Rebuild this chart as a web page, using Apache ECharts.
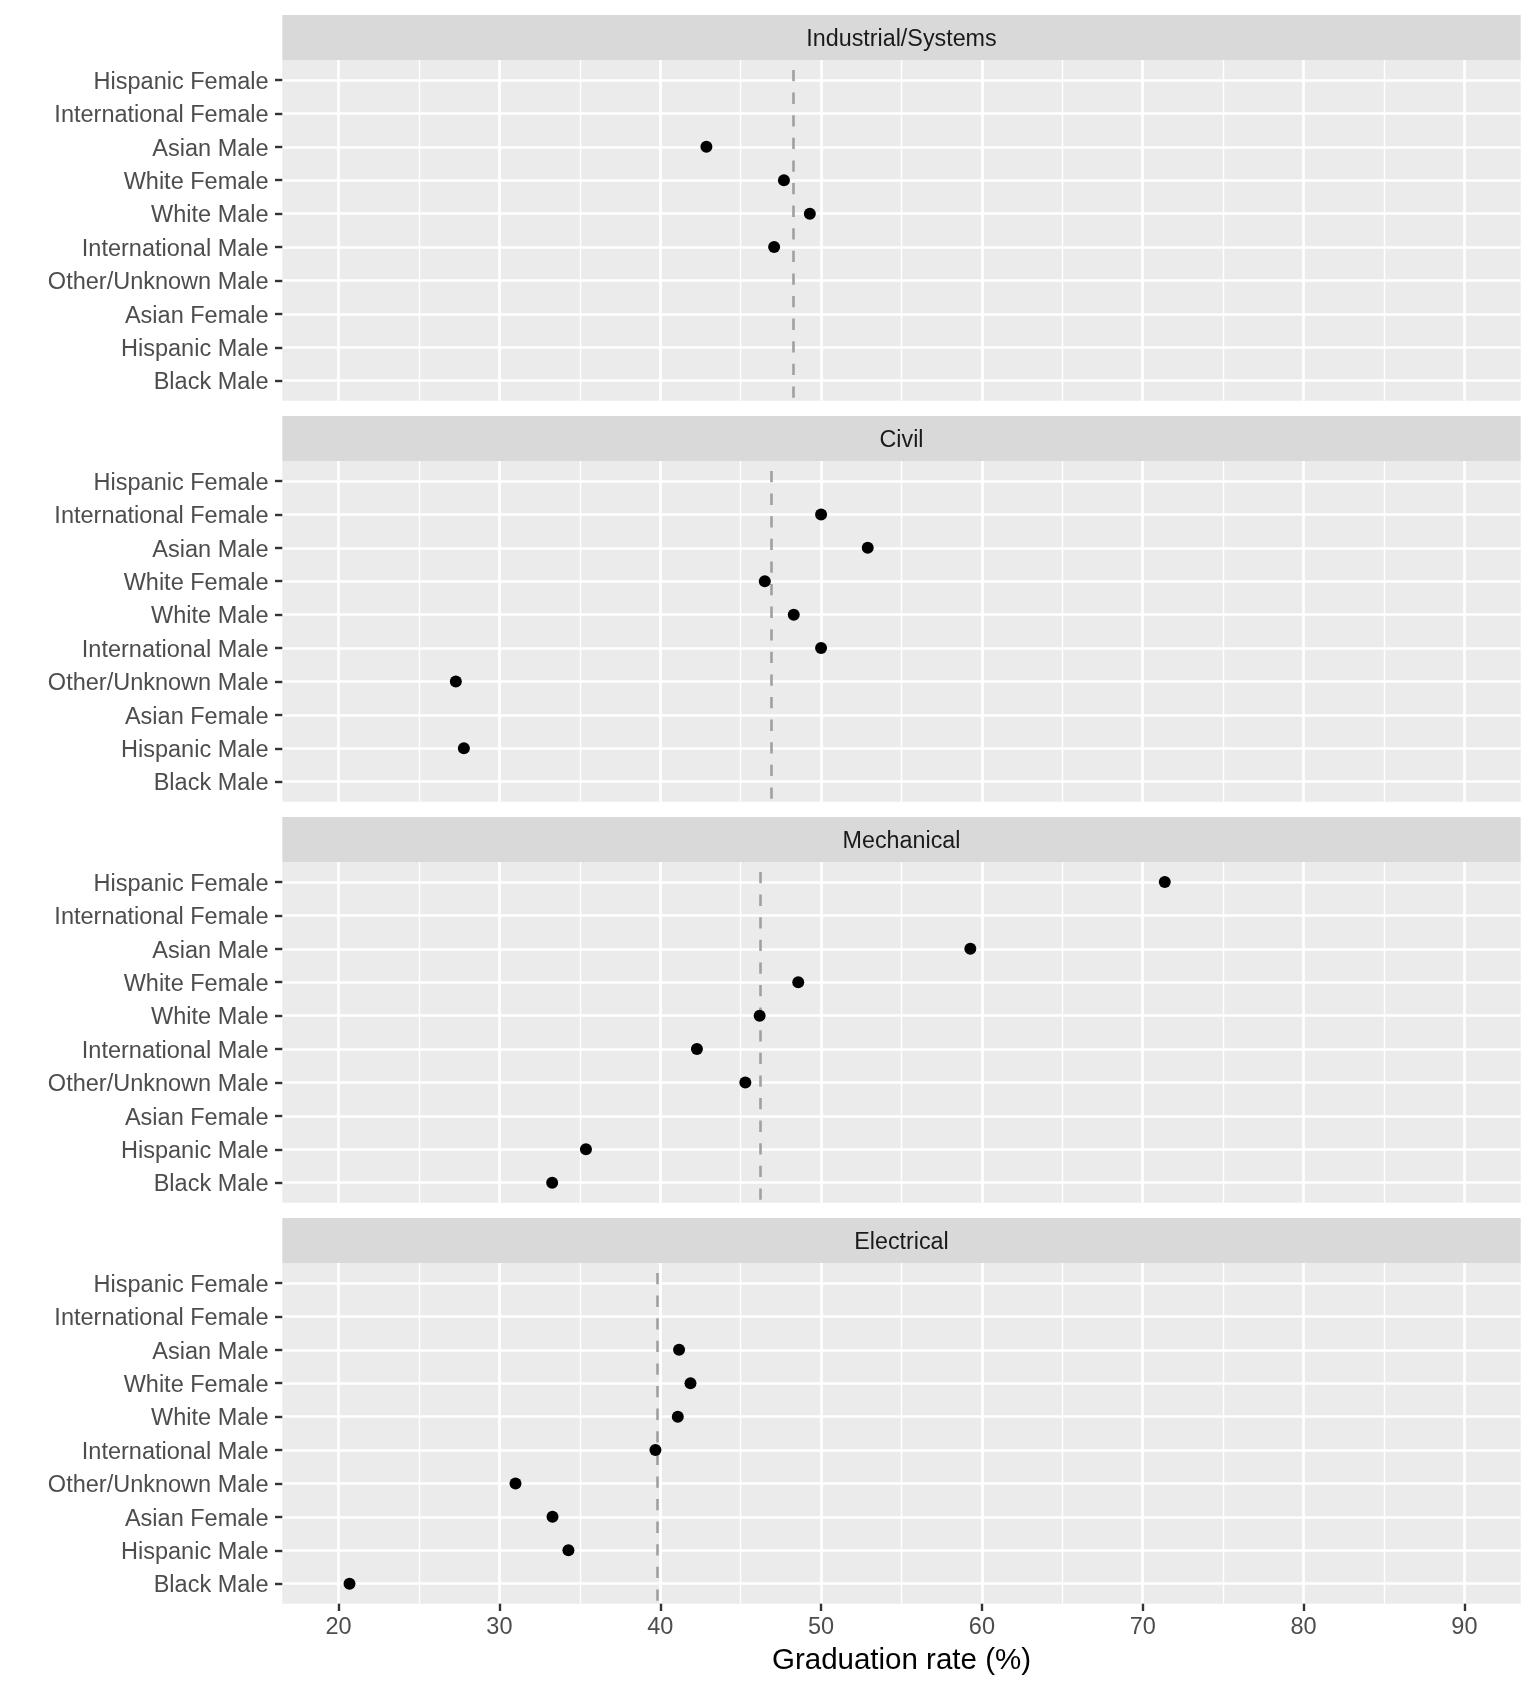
<!DOCTYPE html>
<html>
<head>
<meta charset="utf-8">
<script src="https://cdn.jsdelivr.net/npm/echarts@6/dist/echarts.min.js"></script>
<style>
  html, body { margin: 0; padding: 0; background: #ffffff; }
  #chart { width: 1536px; height: 1689px; }
</style>
</head>
<body>
<div id="chart"></div>
<script>
// ---------- data ----------
const categories = ['Hispanic Female', 'International Female', 'Asian Male', 'White Female', 'White Male',
  'International Male', 'Other/Unknown Male', 'Asian Female', 'Hispanic Male', 'Black Male'];
const panelNames = ['Industrial/Systems', 'Civil', 'Mechanical', 'Electrical'];
const industrialRates = [null, null, 42.87, 47.69, 49.30, 47.08, null, null, null, null];
const civilRates      = [null, 50.0, 52.90, 46.50, 48.30, 50.0, 27.29, null, 27.79, null];
const mechanicalRates = [71.37, null, 59.28, 48.58, 46.18, 42.28, 45.29, null, 35.38, 33.28];
const electricalRates = [null, null, 41.17, 41.88, 41.09, 39.70, 31.0, 33.30, 34.29, 20.68];
const meanRates = [48.30, 46.89, 46.20, 39.80];
const xMajorTicks = [20, 30, 40, 50, 60, 70, 80, 90];
const xMinorTicks = [25, 35, 45, 55, 65, 75, 85];
const xTitle = 'Graduation rate (%)';

// ---------- layout ----------
const FONT = '"Liberation Sans", Arial, Helvetica, sans-serif';
const panelRates = [industrialRates, civilRates, mechanicalRates, electricalRates];
const gridLeft = 282.3, gridRight = 1520.7;
const panelStep = 401, stripTop0 = 15, stripH = 45, plotH = 340.7;
const xMin = 16.5, xMax = 93.5;
const yIdx = categories.map((c, i) => i + 1);

const grids = [], xAxes = [], yAxes = [], series = [], graphics = [];

panelNames.forEach((name, k) => {
  const stripTop = stripTop0 + panelStep * k;
  const plotTop = stripTop + stripH;
  const isLast = k === panelNames.length - 1;

  grids.push({
    left: gridLeft, top: plotTop, width: gridRight - gridLeft, height: plotH,
    show: true, backgroundColor: '#EBEBEB', borderWidth: 0, containLabel: false,
    outerBoundsMode: 'none'
  });

  // minor vertical grid axis
  xAxes.push({
    type: 'value', gridIndex: k, min: xMin, max: xMax, position: 'bottom',
    axisLine: { show: false },
    axisTick: { show: false, customValues: xMinorTicks },
    axisLabel: { show: false, customValues: xMinorTicks },
    splitLine: { show: true, lineStyle: { color: '#FFFFFF', width: 1.4 } }
  });
  // major axis
  xAxes.push({
    type: 'value', gridIndex: k, min: xMin, max: xMax, position: 'bottom',
    axisLine: { show: false },
    axisTick: { show: isLast, customValues: xMajorTicks, length: 7.3, lineStyle: { color: '#333333', width: 2.4 } },
    axisLabel: { show: isLast, customValues: xMajorTicks, margin: 12, color: '#4D4D4D', fontSize: 23.5, fontFamily: FONT },
    splitLine: { show: true, lineStyle: { color: '#FFFFFF', width: 2.7 } },
    name: isLast ? xTitle : '', nameLocation: 'middle', nameGap: 42,
    nameTextStyle: { color: '#000000', fontSize: 29.5, fontFamily: FONT }
  });

  yAxes.push({
    type: 'value', gridIndex: k, min: 0.4, max: 10.6, inverse: true,
    axisLine: { show: false },
    axisTick: { show: true, customValues: yIdx, length: 7.3, lineStyle: { color: '#333333', width: 2.4 } },
    axisLabel: {
      show: true, customValues: yIdx, margin: 13.7, color: '#4D4D4D', fontSize: 23.5, fontFamily: FONT,
      verticalAlign: 'top', lineHeight: 4.4,
      formatter: v => categories[Math.round(v) - 1] || ''
    },
    splitLine: { show: true, lineStyle: { color: '#FFFFFF', width: 2.7 } }
  });

  // dashed reference line (panel mean)
  series.push({
    type: 'scatter', xAxisIndex: 2 * k + 1, yAxisIndex: k, data: [], z: 1, silent: true,
    markLine: {
      silent: true, z: 1, symbol: ['none', 'none'], label: { show: false },
      lineStyle: { type: [11.3, 11.3], dashOffset: 12.6, color: '#A0A0A0', width: 2.6, opacity: 1 },
      emphasis: { disabled: true },
      data: [{ xAxis: meanRates[k] }]
    }
  });

  // points
  const pts = [];
  panelRates[k].forEach((v, i) => { if (v !== null) pts.push([v, i + 1]); });
  series.push({
    type: 'scatter', xAxisIndex: 2 * k + 1, yAxisIndex: k, data: pts, z: 6,
    symbol: 'circle', symbolSize: 12, itemStyle: { color: '#000000', opacity: 1 }, silent: true
  });

  // strip
  graphics.push({
    type: 'rect', left: gridLeft, top: stripTop, silent: true,
    shape: { width: gridRight - gridLeft, height: stripH },
    style: { fill: '#D9D9D9' }
  });
  graphics.push({
    type: 'text', silent: true,
    x: (gridLeft + gridRight) / 2, y: stripTop + stripH / 2 + 2,
    style: { text: name, fill: '#1A1A1A', font: '23.3px ' + FONT, textAlign: 'center', textVerticalAlign: 'middle' }
  });
});

const chart = echarts.init(document.getElementById('chart'), null, { renderer: 'canvas' });
chart.setOption({
  backgroundColor: '#FFFFFF',
  animation: false,
  textStyle: { fontFamily: FONT },
  grid: grids, xAxis: xAxes, yAxis: yAxes, series: series,
  graphic: graphics
});
</script>
</body>
</html>
